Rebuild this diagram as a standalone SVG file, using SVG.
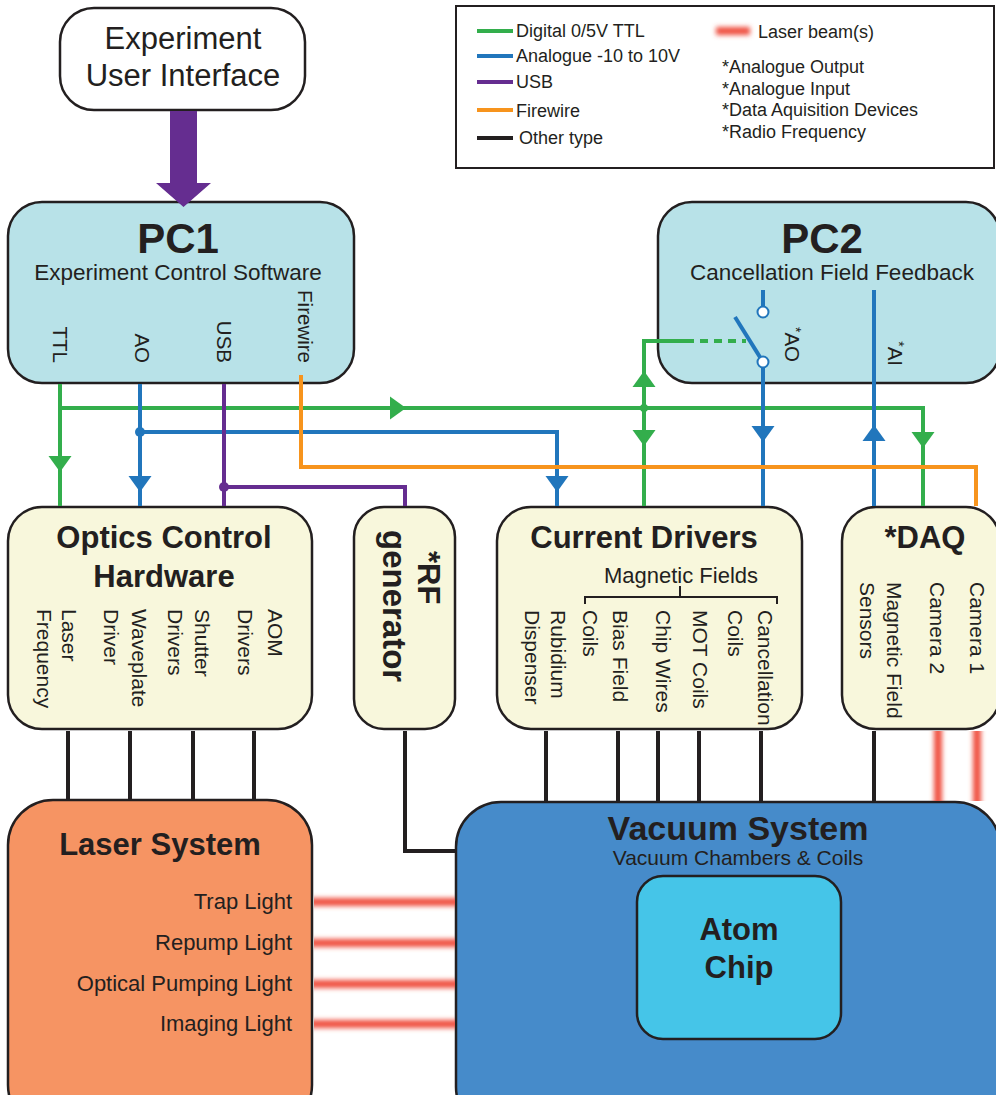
<svg xmlns="http://www.w3.org/2000/svg" xmlns:xlink="http://www.w3.org/1999/xlink" width="996" height="1095" viewBox="0 0 996 1095">
<style>
.t{font-family:"Liberation Sans",Arial,Helvetica,sans-serif;fill:#231F20}
.b{font-weight:bold}
.c{text-anchor:middle}
.e{text-anchor:end}
.box{stroke:#231F20;stroke-width:2.5}
.pc{fill:#B8E2E8}
.cr{fill:#F8F7DC}
.lg{stroke-width:4;fill:none}
.g{stroke:#33AE4C}
.bl{stroke:#2176BC}
.pu{stroke:#652D90}
.or{stroke:#F7941D}
.k{stroke:#231F20}
.ag{fill:#33AE4C}
.ab{fill:#2176BC}
.beam{fill:#EF4E3C}
</style>
<defs>
<path id="ah" d="M-11.5,-8 L11.5,-8 L0,8 Z"/>
<filter id="blur" filterUnits="userSpaceOnUse" x="0" y="0" width="996" height="1095"><feGaussianBlur stdDeviation="2.6"/></filter>
<clipPath id="gapH"><rect x="314" y="880" width="141" height="170"/></clipPath>
<clipPath id="gapV"><rect x="920" y="731" width="76" height="70"/></clipPath>
</defs>

<g id="legend">
<rect x="456" y="6" width="538" height="162" fill="#fff" stroke="#231F20" stroke-width="2"/>
<line x1="477" y1="31" x2="513" y2="31" class="lg g"/>
<line x1="477" y1="56" x2="513" y2="56" class="lg bl"/>
<line x1="477" y1="82" x2="513" y2="82" class="lg pu"/>
<line x1="477" y1="110" x2="513" y2="110" class="lg or"/>
<line x1="477" y1="138" x2="513" y2="138" class="lg k"/>
<text class="t" x="516" y="37" font-size="18">Digital 0/5V TTL</text>
<text class="t" x="516" y="62" font-size="18">Analogue -10 to 10V</text>
<text class="t" x="516" y="88" font-size="18">USB</text>
<text class="t" x="516" y="117" font-size="18">Firewire</text>
<text class="t" x="519" y="144" font-size="18">Other type</text>
<rect x="716" y="27" width="34" height="8" class="beam" filter="url(#blur)"/>
<text class="t" x="758" y="38" font-size="18">Laser beam(s)</text>
<text class="t" x="722" y="73" font-size="18">*Analogue Output</text>
<text class="t" x="722" y="95" font-size="18">*Analogue Input</text>
<text class="t" x="722" y="116" font-size="18">*Data Aquisition Devices</text>
<text class="t" x="722" y="138" font-size="18">*Radio Frequency</text>
</g>

<g id="ui">
<rect x="60" y="8" width="245" height="102" rx="34" fill="#fff" class="box"/>
<text class="t c" x="183" y="49" font-size="31">Experiment</text>
<text class="t c" x="183" y="86" font-size="31">User Interface</text>
</g>

<g id="pc1">
<rect x="8" y="202" width="346" height="181" rx="34" class="box pc"/>
<text class="t b c" x="178" y="253" font-size="42">PC1</text>
<text class="t c" x="178" y="280" font-size="22.5">Experiment Control Software</text>
<text class="t e" font-size="20.5" transform="translate(53,363) rotate(90)">TTL</text>
<text class="t e" font-size="20.5" transform="translate(135,363) rotate(90)">AO</text>
<text class="t e" font-size="20.5" transform="translate(217,363) rotate(90)">USB</text>
<text class="t e" font-size="20.5" transform="translate(298,363) rotate(90)">Firewire</text>
</g>

<g id="pc2">
<rect x="658" y="202" width="342" height="181" rx="34" class="box pc"/>
<text class="t b c" x="822" y="253" font-size="42">PC2</text>
<text class="t c" x="832" y="280" font-size="22.5">Cancellation Field Feedback</text>
<text class="t e" font-size="20.5" transform="translate(785,362) rotate(90)"><tspan font-size="14" dy="-6">*</tspan><tspan dy="6">AO</tspan></text>
<text class="t e" font-size="20.5" transform="translate(888,366) rotate(90)"><tspan font-size="14" dy="-6">*</tspan><tspan dy="6">AI</tspan></text>
</g>

<g id="optics">
<rect x="8" y="507" width="304" height="222" rx="34" class="box cr"/>
<text class="t b c" x="164" y="548" font-size="31">Optics Control</text>
<text class="t b c" x="164" y="587" font-size="31">Hardware</text>
<text class="t" font-size="21" transform="translate(62,609) rotate(90)">Laser</text>
<text class="t" font-size="21" transform="translate(37,609) rotate(90)">Frequency</text>
<text class="t" font-size="21" transform="translate(132,609) rotate(90)">Waveplate</text>
<text class="t" font-size="21" transform="translate(104,609) rotate(90)">Driver</text>
<text class="t" font-size="21" transform="translate(195,609) rotate(90)">Shutter</text>
<text class="t" font-size="21" transform="translate(168,609) rotate(90)">Drivers</text>
<text class="t" font-size="21" transform="translate(268,609) rotate(90)">AOM</text>
<text class="t" font-size="21" transform="translate(238,609) rotate(90)">Drivers</text>
</g>

<g id="rf">
<rect x="354" y="507" width="101" height="222" rx="30" class="box cr"/>
<text class="t b" font-size="31" transform="translate(418,551) rotate(90)">*RF</text>
<text class="t b" font-size="33" transform="translate(383,530) rotate(90)">generator</text>
</g>

<g id="current">
<rect x="497" y="507" width="305" height="222" rx="34" class="box cr"/>
<text class="t b c" x="644" y="548" font-size="31">Current Drivers</text>
<text class="t c" x="681" y="583" font-size="22">Magnetic Fields</text>
<path d="M585,604 V597 H777 V604 M680,597 V586" fill="none" stroke="#231F20" stroke-width="2"/>
<text class="t" font-size="21" transform="translate(551,610) rotate(90)">Rubidium</text>
<text class="t" font-size="21" transform="translate(525,610) rotate(90)">Dispenser</text>
<text class="t" font-size="21" transform="translate(613,610) rotate(90)">Bias Field</text>
<text class="t" font-size="21" transform="translate(583,610) rotate(90)">Coils</text>
<text class="t" font-size="21" transform="translate(656,610) rotate(90)">Chip Wires</text>
<text class="t" font-size="21" transform="translate(693,610) rotate(90)">MOT Coils</text>
<text class="t" font-size="21" transform="translate(758,610) rotate(90)">Cancellation</text>
<text class="t" font-size="21" transform="translate(728,610) rotate(90)">Coils</text>
</g>

<g id="daq">
<rect x="842" y="507" width="158" height="222" rx="34" class="box cr"/>
<text class="t b c" x="925" y="548" font-size="31">*DAQ</text>
<text class="t" font-size="21" transform="translate(887,582) rotate(90)">Magnetic Field</text>
<text class="t" font-size="21" transform="translate(860,582) rotate(90)">Sensors</text>
<text class="t" font-size="21" transform="translate(930,582) rotate(90)">Camera 2</text>
<text class="t" font-size="21" transform="translate(970,582) rotate(90)">Camera 1</text>
</g>

<g id="laser">
<rect x="8" y="800" width="304" height="330" rx="45" fill="#F69463" class="box"/>
<text class="t b c" x="160" y="855" font-size="31">Laser System</text>
<text class="t e" x="292" y="909" font-size="22">Trap Light</text>
<text class="t e" x="292" y="950" font-size="22">Repump Light</text>
<text class="t e" x="292" y="991" font-size="22">Optical Pumping Light</text>
<text class="t e" x="292" y="1031" font-size="22">Imaging Light</text>
</g>

<g id="vacuum">
<rect x="456" y="802" width="544" height="330" rx="45" fill="#468BCA" class="box"/>
<text class="t b c" x="738" y="840" font-size="34">Vacuum System</text>
<text class="t c" x="738" y="865" font-size="21">Vacuum Chambers &amp; Coils</text>
</g>

<g id="atomchip">
<rect x="637" y="876" width="204" height="163" rx="26" fill="#45C5E8" class="box"/>
<text class="t b c" x="739" y="940" font-size="31">Atom</text>
<text class="t b c" x="739" y="978" font-size="31">Chip</text>
</g>

<g id="connectors">
<!-- UI to PC1 thick USB arrow -->
<polygon points="170,111 197,111 197,183 211,183 183.5,207 156,183 170,183" fill="#652D90"/>
<!-- green TTL -->
<polyline points="60,384 60,506" class="lg g"/>
<polyline points="60,408 923,408 923,506" class="lg g"/>
<polyline points="644,341 644,506" class="lg g"/>
<line x1="642" y1="341" x2="686" y2="341" class="lg g"/>
<line x1="686" y1="341" x2="746" y2="341" class="lg g" stroke-dasharray="8,6"/>
<circle cx="644" cy="408" r="4" class="ag"/>
<!-- blue AO -->
<polyline points="140,384 140,506" class="lg bl"/>
<polyline points="140,432 557,432 557,506" class="lg bl"/>
<circle cx="140" cy="432" r="5" class="ab"/>
<polyline points="763,290 763,312" class="lg bl"/>
<polyline points="763,362 763,506" class="lg bl"/>
<line x1="735" y1="317" x2="763" y2="362" class="lg bl"/>
<circle cx="763" cy="312" r="5.5" fill="#fff" stroke="#2176BC" stroke-width="2"/>
<circle cx="763" cy="362" r="5.5" fill="#fff" stroke="#2176BC" stroke-width="2"/>
<polyline points="874,290 874,506" class="lg bl"/>
<!-- purple USB -->
<polyline points="224,384 224,506" class="lg pu"/>
<polyline points="224,487 405,487 405,506" class="lg pu"/>
<circle cx="224" cy="487" r="5" fill="#652D90"/>
<!-- orange firewire -->
<polyline points="301,375 301,467 976,467 976,506" class="lg or"/>
<!-- arrowheads -->
<use xlink:href="#ah" transform="translate(60,464)" class="ag"/>
<use xlink:href="#ah" transform="translate(140,484)" class="ab"/>
<use xlink:href="#ah" transform="translate(557,484)" class="ab"/>
<use xlink:href="#ah" transform="translate(398,408) rotate(-90)" class="ag"/>
<use xlink:href="#ah" transform="translate(644,379) rotate(180)" class="ag"/>
<use xlink:href="#ah" transform="translate(644,438)" class="ag"/>
<use xlink:href="#ah" transform="translate(763,434)" class="ab"/>
<use xlink:href="#ah" transform="translate(874,433) rotate(180)" class="ab"/>
<use xlink:href="#ah" transform="translate(923,440)" class="ag"/>
<!-- other type black -->
<line x1="68" y1="731" x2="68" y2="799" class="lg k"/>
<line x1="130" y1="731" x2="130" y2="799" class="lg k"/>
<line x1="193" y1="731" x2="193" y2="799" class="lg k"/>
<line x1="254" y1="731" x2="254" y2="799" class="lg k"/>
<polyline points="405,731 405,851 455,851" class="lg k"/>
<line x1="546" y1="731" x2="546" y2="801" class="lg k"/>
<line x1="618" y1="731" x2="618" y2="801" class="lg k"/>
<line x1="658" y1="731" x2="658" y2="801" class="lg k"/>
<line x1="699" y1="731" x2="699" y2="801" class="lg k"/>
<line x1="761" y1="731" x2="761" y2="801" class="lg k"/>
<line x1="874" y1="731" x2="874" y2="801" class="lg k"/>
<!-- laser beams -->
<g clip-path="url(#gapH)">
<g filter="url(#blur)" class="beam">
<rect x="300" y="898" width="170" height="8"/>
<rect x="300" y="939" width="170" height="8"/>
<rect x="300" y="980" width="170" height="8"/>
<rect x="300" y="1020" width="170" height="8"/>
</g>
</g>
<g clip-path="url(#gapV)">
<g filter="url(#blur)" class="beam">
<rect x="934" y="720" width="8" height="95"/>
<rect x="973" y="720" width="8" height="95"/>
</g>
</g>
</g>
</svg>
